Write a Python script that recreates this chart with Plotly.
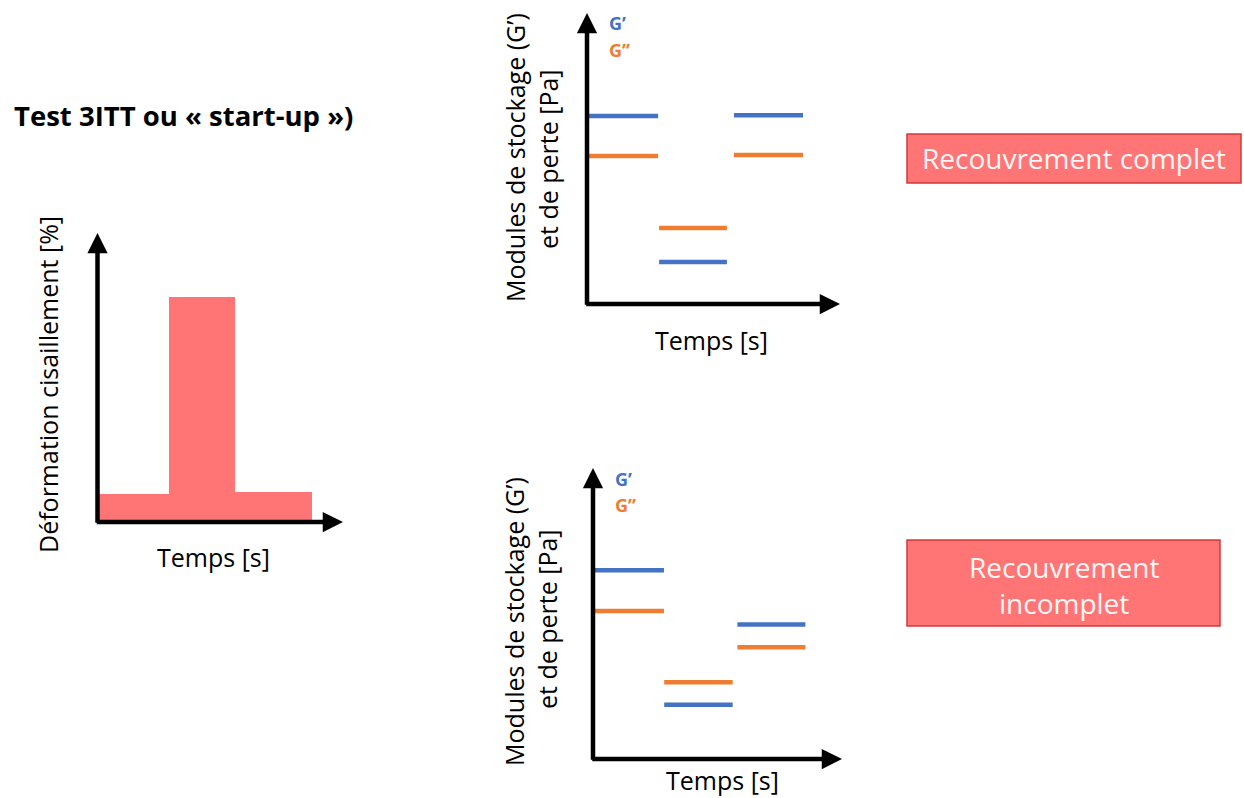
import plotly.graph_objects as go

W, H = 1244, 798

# ---- Data (arbitrary units, each axis spans 0-100 from origin to arrow tip) ----
# Left chart: imposed shear strain steps (3ITT)
strain_bounds = [0, 28.8, 55.7, 87.0]
strain_levels = [9.7, 77.9, 10.4]

# Top right: complete recovery
top_start = [0, 28.5, 58.1]
top_end = [28.1, 55.3, 85.4]
top_gp = [64.6, 14.4, 64.9]     # G'
top_gpp = [50.9, 26.1, 51.2]    # G''

# Bottom right: incomplete recovery
bot_start = [0, 28.6, 58.0]
bot_end = [28.5, 56.1, 85.3]
bot_gp = [64.9, 18.6, 46.2]
bot_gpp = [50.9, 26.4, 38.4]

BLUE = "#4472C4"
ORANGE = "#ED7D31"
RED = "#FF7575"
FONT = "Open Sans"


def px(x):
    return x / W


def py(y):
    return 1 - y / H


def seg_xy(starts, ends, levels):
    xs, ys = [], []
    for s, e, v in zip(starts, ends, levels):
        xs += [s, e, None]
        ys += [v, v, None]
    return xs, ys


fig = go.Figure()

# Left chart bars
mids = [(a + b) / 2 for a, b in zip(strain_bounds[:-1], strain_bounds[1:])]
widths = [b - a for a, b in zip(strain_bounds[:-1], strain_bounds[1:])]
fig.add_trace(go.Bar(x=mids, y=strain_levels, width=widths, marker=dict(color=RED, line=dict(width=0)),
                     xaxis="x", yaxis="y", showlegend=False, hoverinfo="skip"))

# Right charts lines
for starts, ends, gp, gpp, xa, ya in [(top_start, top_end, top_gp, top_gpp, "x2", "y2"),
                                      (bot_start, bot_end, bot_gp, bot_gpp, "x3", "y3")]:
    xs, ys = seg_xy(starts, ends, gp)
    fig.add_trace(go.Scatter(x=xs, y=ys, mode="lines", line=dict(color=BLUE, width=4.5),
                             xaxis=xa, yaxis=ya, showlegend=False, hoverinfo="skip"))
    xs, ys = seg_xy(starts, ends, gpp)
    fig.add_trace(go.Scatter(x=xs, y=ys, mode="lines", line=dict(color=ORANGE, width=4.5),
                             xaxis=xa, yaxis=ya, showlegend=False, hoverinfo="skip"))

axis_common = dict(visible=False, range=[0, 100], fixedrange=True)

# origins and tips in pixels
boxes = {
    "": (97.5, 522, 343, 233),
    "2": (587, 304, 840, 13),
    "3": (593, 759, 842, 468),
}

layout = dict(
    width=W, height=H, margin=dict(l=0, r=0, t=0, b=0),
    paper_bgcolor="white", plot_bgcolor="rgba(0,0,0,0)",
    bargap=0, showlegend=False,
)
for k, (ox, oy, tx, ty) in boxes.items():
    layout["xaxis" + k] = dict(axis_common, domain=[px(ox), px(tx)],
                               anchor="y" + k)
    layout["yaxis" + k] = dict(axis_common, domain=[py(oy), py(ty)],
                               anchor="x" + k)
fig.update_layout(**layout)

annotations = []


def arrow(k, x, y, ax, ay):
    xr = "x" + k
    yr = "y" + k
    return dict(xref=xr, yref=yr, axref=xr, ayref=yr, x=x, y=y, ax=ax, ay=ay,
                text="", showarrow=True, arrowhead=2, arrowsize=0.9, arrowwidth=4.5,
                arrowcolor="black", standoff=0, startstandoff=0)


for k in boxes:
    annotations.append(arrow(k, 0, 100, 0, -0.8))
    annotations.append(arrow(k, 100, 0, -0.9, 0))


def text(x, y, s, size=25, color="black", angle=0, bold=False, xanchor="center"):
    if bold:
        s = "<b>" + s + "</b>"
    return dict(xref="paper", yref="paper", x=px(x), y=py(y), text=s, showarrow=False,
                textangle=angle, xanchor=xanchor, yanchor="middle",
                font=dict(family=FONT, size=size, color=color))


annotations += [
    text(12, 115, "Test 3ITT ou « start-up »)", size=27.5, bold=True, xanchor="left"),
    text(48, 385, "Déformation cisaillement [%]", angle=-90),
    text(213, 557, "Temps [s]"),
    # top right
    text(515, 158, "Modules de stockage (G’)", angle=-90),
    text(548, 159, "et de perte [Pa]", angle=-90),
    text(711, 340, "Temps [s]"),
    text(607, 23, "G’", size=18, color=BLUE, bold=True, xanchor="left"),
    text(607, 50, "G’’", size=18, color=ORANGE, bold=True, xanchor="left"),
    # bottom right
    text(514, 622, "Modules de stockage (G’)", angle=-90),
    text(547, 619, "et de perte [Pa]", angle=-90),
    text(722, 780, "Temps [s]"),
    text(613, 479, "G’", size=18, color=BLUE, bold=True, xanchor="left"),
    text(613, 505, "G’’", size=18, color=ORANGE, bold=True, xanchor="left"),
    # boxes
    text(1074, 158, "Recouvrement complet", size=28, color="#FFF6F6"),
    text(1064, 567, "Recouvrement", size=28, color="#FFF6F6"),
    text(1064, 603, "incomplet", size=28, color="#FFF6F6"),
]

shapes = [
    dict(type="rect", xref="paper", yref="paper", x0=px(907), x1=px(1241), y0=py(183), y1=py(134),
         fillcolor=RED, line=dict(color="#D03A3A", width=1.5), layer="below"),
    dict(type="rect", xref="paper", yref="paper", x0=px(907), x1=px(1220), y0=py(626), y1=py(540),
         fillcolor=RED, line=dict(color="#D03A3A", width=1.5), layer="below"),
]

fig.update_layout(annotations=annotations, shapes=shapes)

fig.write_html("out.html", config={"displayModeBar": False},
               post_script="document.body.style.margin='0';document.body.style.overflow='hidden';")
